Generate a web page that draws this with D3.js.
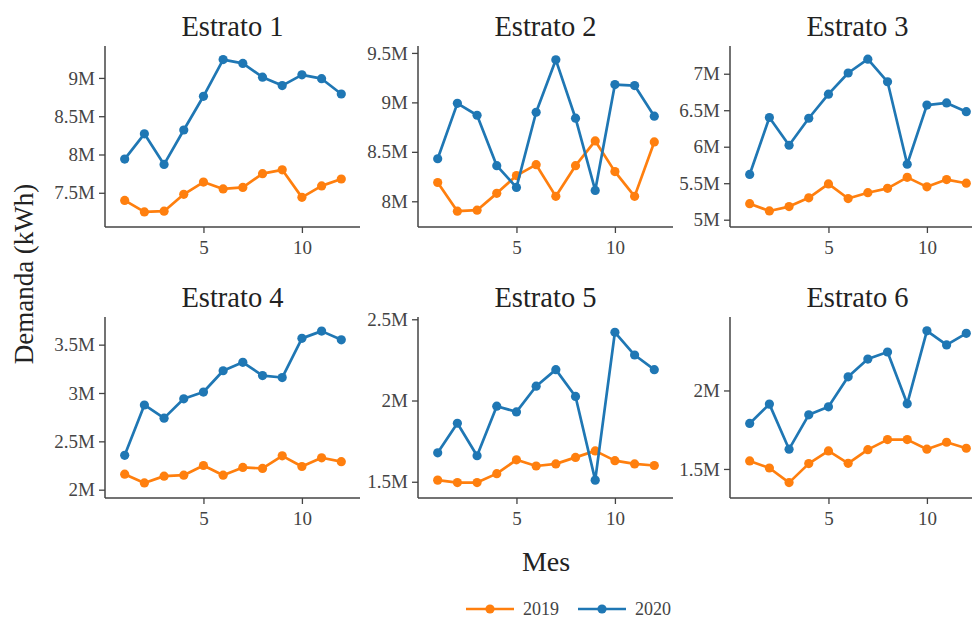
<!DOCTYPE html>
<html>
<head>
<meta charset="utf-8">
<script src="https://cdn.jsdelivr.net/npm/d3@7"></script>
<style>
  body { margin: 0; background: #fff; }
  svg { display: block; font-family: "Liberation Serif", "DejaVu Serif", serif; }
  .tick text { fill: #444; }
</style>
</head>
<body>
<div id="chart"></div>
<script>
// monthly demand per stratum, in millions of kWh
const months = [1, 2, 3, 4, 5, 6, 7, 8, 9, 10, 11, 12];
const strata = ["Estrato 1", "Estrato 2", "Estrato 3", "Estrato 4", "Estrato 5", "Estrato 6"];
const years = ["2019", "2020"];

const demand2019 = [
    [7.40, 7.25, 7.26, 7.48, 7.64, 7.55, 7.57, 7.75, 7.80, 7.44, 7.59, 7.68],
    [8.19, 7.90, 7.91, 8.08, 8.26, 8.37, 8.05, 8.36, 8.61, 8.30, 8.05, 8.60],
    [5.22, 5.12, 5.18, 5.30, 5.49, 5.29, 5.37, 5.43, 5.58, 5.45, 5.55, 5.50],
    [2.16, 2.07, 2.14, 2.15, 2.25, 2.15, 2.23, 2.22, 2.35, 2.24, 2.33, 2.29],
    [1.51, 1.495, 1.495, 1.55, 1.635, 1.597, 1.61, 1.65, 1.69, 1.63, 1.61, 1.60],
    [1.551, 1.506, 1.413, 1.534, 1.615, 1.536, 1.623, 1.687, 1.687, 1.626, 1.67, 1.632]
];
const demand2020 = [
    [7.94, 8.27, 7.87, 8.32, 8.76, 9.24, 9.19, 9.01, 8.90, 9.04, 8.99, 8.79],
    [8.43, 8.99, 8.87, 8.36, 8.14, 8.90, 9.43, 8.84, 8.11, 9.18, 9.17, 8.86],
    [5.62, 6.40, 6.02, 6.39, 6.72, 7.01, 7.20, 6.89, 5.76, 6.57, 6.60, 6.48],
    [2.355, 2.876, 2.74, 2.94, 3.01, 3.23, 3.317, 3.18, 3.16, 3.565, 3.64, 3.55],
    [1.678, 1.86, 1.66, 1.965, 1.93, 2.088, 2.19, 2.025, 1.51, 2.42, 2.28, 2.19],
    [1.79, 1.913, 1.626, 1.845, 1.896, 2.087, 2.20, 2.245, 1.915, 2.38, 2.29, 2.364]
];

// axis ranges and ticks per panel
const yRanges = [
    [7.053, 9.417], [7.74, 9.57], [4.90, 7.38],
    [1.914, 3.786], [1.40, 2.514], [1.315, 2.468]
];
const yTicks = [
    [7.5, 8, 8.5, 9], [8, 8.5, 9, 9.5], [5, 5.5, 6, 6.5, 7],
    [2, 2.5, 3, 3.5], [1.5, 2, 2.5], [1.5, 2]
];
const xTicks = [5, 10];
const xRange = [0, 12.95];

const colors = { "2019": "#ff7f0e", "2020": "#1f77b4" };

const width = 972, height = 618;
const panelW = 255, panelH = 181;
const lefts = [105, 418, 730];
const tops = [46, 317];

const svg = d3.select("#chart").append("svg")
    .attr("width", width)
    .attr("height", height)
    .style("overflow", "hidden");

const x = d3.scaleLinear().domain(xRange).range([0, panelW]);

strata.forEach((name, i) => {
    const col = i % 3, row = Math.floor(i / 3);
    const g = svg.append("g")
        .attr("transform", `translate(${lefts[col]},${tops[row]})`);

    const y = d3.scaleLinear().domain(yRanges[i]).range([panelH, 0]);

    // axes
    const yAxis = d3.axisLeft(y)
        .tickValues(yTicks[i])
        .tickSize(6)
        .tickPadding(4)
        .tickFormat(d => d + "M");
    const xAxis = d3.axisBottom(x)
        .tickValues(xTicks)
        .tickSize(6)
        .tickPadding(8);

    const ya = g.append("g").call(yAxis);
    const xa = g.append("g").attr("transform", `translate(0,${panelH})`).call(xAxis);

    [ya, xa].forEach(a => {
        a.select(".domain").attr("stroke", "#444").attr("stroke-width", 1.5);
        a.selectAll(".tick line").attr("stroke", "#444").attr("stroke-width", 1.3);
        a.selectAll(".tick text")
            .style("font-family", '"Liberation Serif", serif')
            .style("font-size", "19px");
    });
    // plain spines, no outer ticks
    ya.select(".domain").attr("d", `M0,0V${panelH}`);
    xa.select(".domain").attr("d", `M0,0H${panelW}`);

    // title
    g.append("text")
        .attr("x", panelW / 2)
        .attr("y", -10)
        .attr("text-anchor", "middle")
        .attr("fill", "#222")
        .style("font-size", "28.5px")
        .text(name);

    const line = d3.line()
        .x((d, k) => x(months[k]))
        .y(d => y(d));

    [[demand2019[i], "2019"], [demand2020[i], "2020"]].forEach(([vals, yr]) => {
        g.append("path")
            .datum(vals)
            .attr("fill", "none")
            .attr("stroke", colors[yr])
            .attr("stroke-width", 2.7)
            .attr("stroke-linejoin", "round")
            .attr("d", line);

        g.selectAll(null)
            .data(vals)
            .enter()
            .append("circle")
            .attr("cx", (d, k) => x(months[k]))
            .attr("cy", d => y(d))
            .attr("r", 4.6)
            .attr("fill", colors[yr]);
    });
});

// axis titles
svg.append("text")
    .attr("transform", "translate(33,274) rotate(-90)")
    .attr("text-anchor", "middle")
    .attr("fill", "#222")
    .style("font-size", "27px")
    .text("Demanda (kWh)");

svg.append("text")
    .attr("x", 546)
    .attr("y", 571)
    .attr("text-anchor", "middle")
    .attr("fill", "#222")
    .style("font-size", "28px")
    .text("Mes");

// legend
const legend = svg.append("g").attr("transform", "translate(466,609)");
years.forEach((yr, k) => {
    const lg = legend.append("g").attr("transform", `translate(${k * 112},0)`);
    lg.append("line")
        .attr("x1", 0).attr("x2", 48)
        .attr("stroke", colors[yr])
        .attr("stroke-width", 2.7);
    lg.append("circle")
        .attr("cx", 24)
        .attr("r", 4.6)
        .attr("fill", colors[yr]);
    lg.append("text")
        .attr("x", 57)
        .attr("y", 6)
        .attr("fill", "#444")
        .style("font-size", "18px")
        .text(yr);
});
</script>
</body>
</html>
